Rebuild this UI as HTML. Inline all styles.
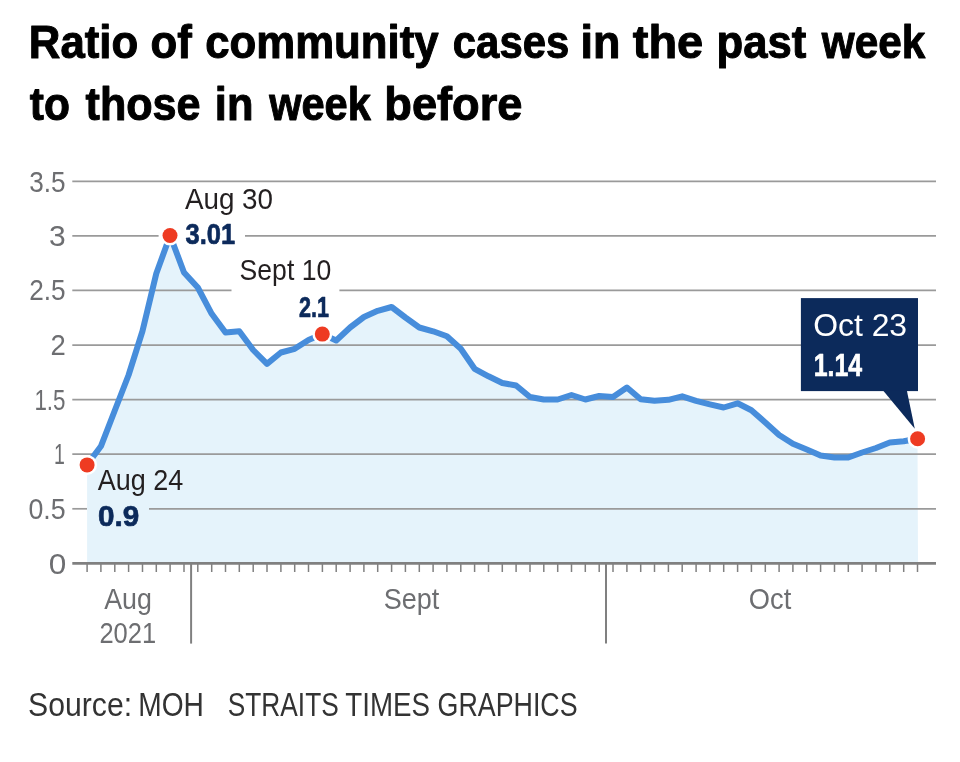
<!DOCTYPE html>
<html lang="en">
<head>
<meta charset="utf-8">
<title>Ratio of community cases in the past week to those in week before</title>
<style>
html,body{margin:0;padding:0;background:#fff;}
body{width:960px;height:762px;overflow:hidden;font-family:"Liberation Sans",sans-serif;}
svg{display:block;}
text{font-family:"Liberation Sans",sans-serif;}
.title{font-weight:bold;fill:#000;stroke:#000;stroke-width:1px;stroke-linejoin:round;}
.ax{fill:#6d6e71;}
.lab{fill:#231f20;}
.val{font-weight:bold;fill:#0c2a5b;stroke:#0c2a5b;stroke-width:0.7px;stroke-linejoin:round;}
.src{fill:#333;}
</style>
</head>
<body>
<svg width="960" height="762" viewBox="0 0 960 762">
<rect width="960" height="762" fill="#fff"/>
<text class="title" y="57.60" font-size="45.50"><tspan id="t1w0" x="28.84" textLength="109.40" lengthAdjust="spacingAndGlyphs">Ratio</tspan> <tspan id="t1w1" x="150.53" textLength="41.27" lengthAdjust="spacingAndGlyphs">of</tspan> <tspan id="t1w2" x="205.17" textLength="233.42" lengthAdjust="spacingAndGlyphs">community</tspan> <tspan id="t1w3" x="452.84" textLength="116.44" lengthAdjust="spacingAndGlyphs">cases</tspan> <tspan id="t1w4" x="580.48" textLength="39.86" lengthAdjust="spacingAndGlyphs">in</tspan> <tspan id="t1w5" x="632.77" textLength="70.49" lengthAdjust="spacingAndGlyphs">the</tspan> <tspan id="t1w6" x="716.59" textLength="89.74" lengthAdjust="spacingAndGlyphs">past</tspan> <tspan id="t1w7" x="821.80" textLength="103.47" lengthAdjust="spacingAndGlyphs">week</tspan></text>
<text class="title" y="119.60" font-size="45.50"><tspan id="t2w0" x="29.84" textLength="40.10" lengthAdjust="spacingAndGlyphs">to</tspan> <tspan id="t2w1" x="85.56" textLength="115.05" lengthAdjust="spacingAndGlyphs">those</tspan> <tspan id="t2w2" x="214.82" textLength="38.60" lengthAdjust="spacingAndGlyphs">in</tspan> <tspan id="t2w3" x="269.13" textLength="101.76" lengthAdjust="spacingAndGlyphs">week</tspan> <tspan id="t2w4" x="384.30" textLength="138.13" lengthAdjust="spacingAndGlyphs">before</tspan></text>
<path d="M87.1,563.4 L87.1,464.8 L100.9,446.3 L114.8,410.5 L128.6,375.0 L142.5,331.0 L156.3,273.5 L170.1,235.5 L184.0,272.5 L197.8,287.5 L211.7,313.8 L225.5,332.5 L239.3,331.3 L253.2,350.0 L267.0,363.8 L280.9,352.5 L294.7,348.8 L308.5,340.0 L322.4,334.1 L336.2,340.5 L350.1,327.5 L363.9,317.0 L377.7,310.8 L391.6,307.0 L405.4,317.5 L419.3,327.5 L433.1,331.3 L446.9,336.3 L460.8,348.8 L474.6,368.8 L488.5,376.3 L502.3,383.0 L516.1,385.5 L530.0,397.0 L543.8,399.5 L557.7,399.5 L571.5,395.0 L585.3,399.5 L599.2,396.0 L613.0,397.0 L626.9,387.5 L640.7,399.3 L654.5,400.8 L668.4,399.8 L682.2,396.3 L696.1,400.8 L709.9,404.3 L723.7,407.5 L737.6,403.3 L751.4,410.3 L765.3,422.5 L779.1,435.0 L792.9,443.8 L806.8,449.5 L820.6,455.5 L834.5,457.5 L848.3,457.5 L862.1,452.5 L876.0,448.0 L889.8,442.5 L903.7,441.3 L917.5,438.8 L918.0,563.4 Z" fill="#e5f3fb"/>
<g stroke="#9a9a9a" stroke-width="1.7"><line x1="72.3" y1="181.4" x2="936.0" y2="181.4"/><line x1="72.3" y1="235.8" x2="158.6" y2="235.8"/><line x1="245" y1="235.8" x2="936.0" y2="235.8"/><line x1="72.3" y1="290.3" x2="231.5" y2="290.3"/><line x1="339.4" y1="290.3" x2="936.0" y2="290.3"/><line x1="72.3" y1="345.2" x2="936.0" y2="345.2"/><line x1="72.3" y1="399.6" x2="936.0" y2="399.6"/><line x1="72.3" y1="454.1" x2="936.0" y2="454.1"/><line x1="72.3" y1="508.8" x2="87" y2="508.8"/><line x1="149" y1="508.8" x2="936.0" y2="508.8"/></g>
<polyline points="87.1,464.8 100.9,446.3 114.8,410.5 128.6,375.0 142.5,331.0 156.3,273.5 170.1,235.5 184.0,272.5 197.8,287.5 211.7,313.8 225.5,332.5 239.3,331.3 253.2,350.0 267.0,363.8 280.9,352.5 294.7,348.8 308.5,340.0 322.4,334.1 336.2,340.5 350.1,327.5 363.9,317.0 377.7,310.8 391.6,307.0 405.4,317.5 419.3,327.5 433.1,331.3 446.9,336.3 460.8,348.8 474.6,368.8 488.5,376.3 502.3,383.0 516.1,385.5 530.0,397.0 543.8,399.5 557.7,399.5 571.5,395.0 585.3,399.5 599.2,396.0 613.0,397.0 626.9,387.5 640.7,399.3 654.5,400.8 668.4,399.8 682.2,396.3 696.1,400.8 709.9,404.3 723.7,407.5 737.6,403.3 751.4,410.3 765.3,422.5 779.1,435.0 792.9,443.8 806.8,449.5 820.6,455.5 834.5,457.5 848.3,457.5 862.1,452.5 876.0,448.0 889.8,442.5 903.7,441.3 917.5,438.8" fill="none" stroke="#478ddb" stroke-width="6" stroke-linejoin="round" stroke-linecap="butt"/>
<line x1="72.3" y1="563.4" x2="936.0" y2="563.4" stroke="#808080" stroke-width="2.8"/>
<g stroke="#808080" stroke-width="1.5"><line x1="87.1" y1="564" x2="87.1" y2="572"/><line x1="100.9" y1="564" x2="100.9" y2="572"/><line x1="114.8" y1="564" x2="114.8" y2="572"/><line x1="128.6" y1="564" x2="128.6" y2="572"/><line x1="142.5" y1="564" x2="142.5" y2="572"/><line x1="156.3" y1="564" x2="156.3" y2="572"/><line x1="170.1" y1="564" x2="170.1" y2="572"/><line x1="184.0" y1="564" x2="184.0" y2="572"/><line x1="197.8" y1="564" x2="197.8" y2="572"/><line x1="211.7" y1="564" x2="211.7" y2="572"/><line x1="225.5" y1="564" x2="225.5" y2="572"/><line x1="239.3" y1="564" x2="239.3" y2="572"/><line x1="253.2" y1="564" x2="253.2" y2="572"/><line x1="267.0" y1="564" x2="267.0" y2="572"/><line x1="280.9" y1="564" x2="280.9" y2="572"/><line x1="294.7" y1="564" x2="294.7" y2="572"/><line x1="308.5" y1="564" x2="308.5" y2="572"/><line x1="322.4" y1="564" x2="322.4" y2="572"/><line x1="336.2" y1="564" x2="336.2" y2="572"/><line x1="350.1" y1="564" x2="350.1" y2="572"/><line x1="363.9" y1="564" x2="363.9" y2="572"/><line x1="377.7" y1="564" x2="377.7" y2="572"/><line x1="391.6" y1="564" x2="391.6" y2="572"/><line x1="405.4" y1="564" x2="405.4" y2="572"/><line x1="419.3" y1="564" x2="419.3" y2="572"/><line x1="433.1" y1="564" x2="433.1" y2="572"/><line x1="446.9" y1="564" x2="446.9" y2="572"/><line x1="460.8" y1="564" x2="460.8" y2="572"/><line x1="474.6" y1="564" x2="474.6" y2="572"/><line x1="488.5" y1="564" x2="488.5" y2="572"/><line x1="502.3" y1="564" x2="502.3" y2="572"/><line x1="516.1" y1="564" x2="516.1" y2="572"/><line x1="530.0" y1="564" x2="530.0" y2="572"/><line x1="543.8" y1="564" x2="543.8" y2="572"/><line x1="557.7" y1="564" x2="557.7" y2="572"/><line x1="571.5" y1="564" x2="571.5" y2="572"/><line x1="585.3" y1="564" x2="585.3" y2="572"/><line x1="599.2" y1="564" x2="599.2" y2="572"/><line x1="613.0" y1="564" x2="613.0" y2="572"/><line x1="626.9" y1="564" x2="626.9" y2="572"/><line x1="640.7" y1="564" x2="640.7" y2="572"/><line x1="654.5" y1="564" x2="654.5" y2="572"/><line x1="668.4" y1="564" x2="668.4" y2="572"/><line x1="682.2" y1="564" x2="682.2" y2="572"/><line x1="696.1" y1="564" x2="696.1" y2="572"/><line x1="709.9" y1="564" x2="709.9" y2="572"/><line x1="723.7" y1="564" x2="723.7" y2="572"/><line x1="737.6" y1="564" x2="737.6" y2="572"/><line x1="751.4" y1="564" x2="751.4" y2="572"/><line x1="765.3" y1="564" x2="765.3" y2="572"/><line x1="779.1" y1="564" x2="779.1" y2="572"/><line x1="792.9" y1="564" x2="792.9" y2="572"/><line x1="806.8" y1="564" x2="806.8" y2="572"/><line x1="820.6" y1="564" x2="820.6" y2="572"/><line x1="834.5" y1="564" x2="834.5" y2="572"/><line x1="848.3" y1="564" x2="848.3" y2="572"/><line x1="862.1" y1="564" x2="862.1" y2="572"/><line x1="876.0" y1="564" x2="876.0" y2="572"/><line x1="889.8" y1="564" x2="889.8" y2="572"/><line x1="903.7" y1="564" x2="903.7" y2="572"/><line x1="917.5" y1="564" x2="917.5" y2="572"/></g>
<g stroke="#808080" stroke-width="2"><line x1="191.1" y1="563" x2="191.1" y2="643.6"/><line x1="606" y1="563" x2="606" y2="643.6"/></g>
<g>
<text id="y0" class="ax" x="29.26" y="191.50" font-size="29.50" textLength="36.34" lengthAdjust="spacingAndGlyphs">3.5</text>
<text id="y1" class="ax" x="49.05" y="245.90" font-size="29.50" textLength="16.69" lengthAdjust="spacingAndGlyphs">3</text>
<text id="y2" class="ax" x="29.23" y="300.40" font-size="29.50" textLength="36.35" lengthAdjust="spacingAndGlyphs">2.5</text>
<text id="y3" class="ax" x="50.48" y="355.30" font-size="29.50" textLength="15.28" lengthAdjust="spacingAndGlyphs">2</text>
<text id="y4" class="ax" x="34.42" y="409.70" font-size="29.50" textLength="31.06" lengthAdjust="spacingAndGlyphs">1.5</text>
<text id="y5" class="ax" x="54.00" y="464.20" font-size="29.50" textLength="10.85" lengthAdjust="spacingAndGlyphs">1</text>
<text id="y6" class="ax" x="28.42" y="518.90" font-size="29.50" textLength="37.17" lengthAdjust="spacingAndGlyphs">0.5</text>
<text id="y7" class="ax" x="48.70" y="573.60" font-size="29.50" textLength="17.56" lengthAdjust="spacingAndGlyphs">0</text>
</g>
<g>
<text id="mAug" class="ax" x="104.23" y="608.50" font-size="29.00" textLength="47.75" lengthAdjust="spacingAndGlyphs">Aug</text>
<text id="m2021" class="ax" x="99.38" y="643.00" font-size="29.00" textLength="56.67" lengthAdjust="spacingAndGlyphs">2021</text>
<text id="mSept" class="ax" x="383.74" y="608.50" font-size="29.00" textLength="55.58" lengthAdjust="spacingAndGlyphs">Sept</text>
<text id="mOct" class="ax" x="748.84" y="608.50" font-size="29.00" textLength="42.41" lengthAdjust="spacingAndGlyphs">Oct</text>
</g>
<rect x="800.9" y="298.1" width="117.1" height="93" fill="#0c2a5b"/>
<polygon points="883.3,390.8 906.9,390.8 914.8,428.8" fill="#0c2a5b"/>
<circle cx="87.1" cy="464.9" r="10" fill="#fff"/><circle cx="87.1" cy="464.9" r="7.5" fill="#ee3b22"/><circle cx="170" cy="235.5" r="10" fill="#fff"/><circle cx="170" cy="235.5" r="7.5" fill="#ee3b22"/><circle cx="322.3" cy="334.1" r="10" fill="#fff"/><circle cx="322.3" cy="334.1" r="7.5" fill="#ee3b22"/><circle cx="917.6" cy="438.8" r="10" fill="#fff"/><circle cx="917.6" cy="438.8" r="7.5" fill="#ee3b22"/>
<g>
<text id="a1" class="lab" x="184.93" y="208.80" font-size="29.50" textLength="88.12" lengthAdjust="spacingAndGlyphs">Aug 30</text>
<text id="a2" class="lab" x="239.61" y="280.40" font-size="29.50" textLength="91.59" lengthAdjust="spacingAndGlyphs">Sept 10</text>
<text id="a0" class="lab" x="97.75" y="489.60" font-size="29.50" textLength="85.56" lengthAdjust="spacingAndGlyphs">Aug 24</text>
<text id="a3" class="lab" x="813.14" y="335.60" font-size="32.00" textLength="93.99" lengthAdjust="spacingAndGlyphs" style="fill:#fff">Oct 23</text>
</g>
<g>
<text id="v1" class="val" x="185.56" y="244.30" font-size="29.50" textLength="49.60" lengthAdjust="spacingAndGlyphs">3.01</text>
<text id="v2" class="val" x="299.08" y="316.50" font-size="29.50" textLength="30.04" lengthAdjust="spacingAndGlyphs">2.1</text>
<text id="v0" class="val" x="97.93" y="525.50" font-size="29.50" textLength="41.27" lengthAdjust="spacingAndGlyphs">0.9</text>
<text id="v3" class="val" x="813.68" y="375.80" font-size="32.00" textLength="48.40" lengthAdjust="spacingAndGlyphs" style="fill:#fff;stroke:#fff">1.14</text>
</g>
<text class="src" y="715.90" font-size="33.50"><tspan id="s0" x="28.04" textLength="104.11" lengthAdjust="spacingAndGlyphs">Source:</tspan> <tspan id="s1" x="138.24" textLength="65.61" lengthAdjust="spacingAndGlyphs">MOH</tspan> <tspan id="s2" x="227.78" textLength="111.00" lengthAdjust="spacingAndGlyphs">STRAITS</tspan> <tspan id="s3" x="345.29" textLength="84.67" lengthAdjust="spacingAndGlyphs">TIMES</tspan> <tspan id="s4" x="437.54" textLength="140.08" lengthAdjust="spacingAndGlyphs">GRAPHICS</tspan></text>
</svg>
</body>
</html>
